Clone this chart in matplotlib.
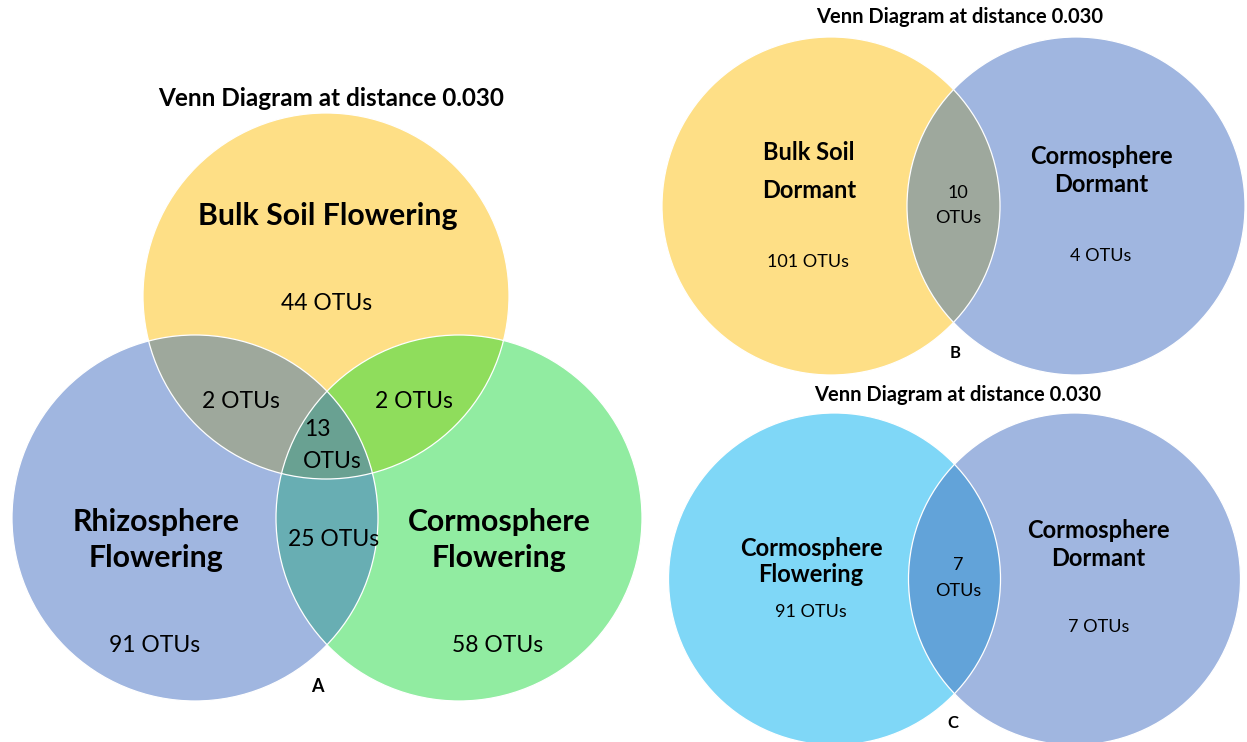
import numpy as np
import matplotlib
matplotlib.use("Agg")
import matplotlib.pyplot as plt
from matplotlib.patches import Circle, Polygon

plt.rcParams['font.family'] = ['Lato', 'DejaVu Sans']

# ---------------- data ----------------
title_text = "Venn Diagram at distance 0.030"

a_sets = ["Bulk Soil Flowering", "Rhizosphere\nFlowering", "Cormosphere\nFlowering"]
a_only = [44, 91, 58]              # bulk, rhizo, cormo only
a_pairs = [2, 2, 25]               # bulk&rhizo, bulk&cormo, rhizo&cormo
a_all = 13

b_sets = ["Bulk Soil\nDormant", "Cormosphere\nDormant"]
b_only = [101, 4]
b_shared = 10

c_sets = ["Cormosphere\nFlowering", "Cormosphere\nDormant"]
c_only = [91, 7]
c_shared = 7

panel_letters = ["A", "B", "C"]

# ---------------- figure ----------------
W, H = 1247, 742
fig = plt.figure(figsize=(W / 100, H / 100), dpi=100)
ax = fig.add_axes([0, 0, 1, 1])
ax.set_xlim(0, W)
ax.set_ylim(H, 0)
ax.axis('off')


def region_polygon(circles, color, n=3000):
    pts = []
    for i, (cx, cy, r) in enumerate(circles):
        t = np.linspace(0, 2 * np.pi, n, endpoint=False)
        x = cx + r * np.cos(t)
        y = cy + r * np.sin(t)
        keep = np.ones_like(x, dtype=bool)
        for j, (ox, oy, orr) in enumerate(circles):
            if j != i:
                keep &= (x - ox) ** 2 + (y - oy) ** 2 <= orr ** 2 * (1 + 1e-9)
        pts.append(np.column_stack([x[keep], y[keep]]))
    pts = np.concatenate(pts)
    c = pts.mean(axis=0)
    ang = np.arctan2(pts[:, 1] - c[1], pts[:, 0] - c[0])
    pts = pts[np.argsort(ang)]
    ax.add_patch(Polygon(pts, closed=True, facecolor=color, edgecolor='none', zorder=2))


def draw_circles(circles, colors):
    for (cx, cy, r), col in zip(circles, colors):
        ax.add_patch(Circle((cx, cy), r, facecolor=col, edgecolor='none', zorder=1))


def outlines(circles):
    for (cx, cy, r) in circles:
        ax.add_patch(Circle((cx, cy), r, facecolor='none', edgecolor='white', lw=0.9, zorder=3))


def lines(label, x, ys, size, bold=True):
    for line, y in zip(label.split("\n"), ys):
        ax.text(x, y, line, ha='center', va='center', fontsize=size,
                fontweight='bold' if bold else 'normal', zorder=5)


def otu(n):
    return f"{n} OTUs"


# ---------------- panel A ----------------
yellow = '#FEDF86'
blue = '#A0B6E0'
green = '#91ECA1'
cA = [(326, 296, 183), (195, 518, 183), (459, 518, 183)]
draw_circles(cA, [yellow, blue, green])
region_polygon([cA[0], cA[1]], '#9EA89C')
region_polygon([cA[0], cA[2]], '#8FDD5C')
region_polygon([cA[1], cA[2]], '#68AEB3')
region_polygon(cA, '#69A192')
outlines(cA)

ax.text(331, 99, title_text, ha='center', va='center', fontsize=17.5, fontweight='bold', zorder=5)
lines(a_sets[0], 328, [216], 21.8)
lines(a_sets[1], 156, [522, 558], 21.8)
lines(a_sets[2], 499, [522, 558], 21.8)
BIG = 16.5
ax.text(327, 303, otu(a_only[0]), ha='center', va='center', fontsize=BIG, zorder=5)
ax.text(155, 645, otu(a_only[1]), ha='center', va='center', fontsize=BIG, zorder=5)
ax.text(498, 645, otu(a_only[2]), ha='center', va='center', fontsize=BIG, zorder=5)
ax.text(241, 401, otu(a_pairs[0]), ha='center', va='center', fontsize=BIG, zorder=5)
ax.text(414, 401, otu(a_pairs[1]), ha='center', va='center', fontsize=BIG, zorder=5)
ax.text(334, 540, otu(a_pairs[2]), ha='center', va='center', fontsize=BIG, zorder=5)
ax.text(304, 430, str(a_all), ha='left', va='center', fontsize=BIG, zorder=5)
ax.text(303, 462, "OTUs", ha='left', va='center', fontsize=BIG, zorder=5)
ax.text(317, 686, panel_letters[0], ha='center', va='center', fontsize=13, fontweight='bold', zorder=5)

# ---------------- panel B ----------------
cB = [(831, 206, 169), (1076, 206, 169)]
draw_circles(cB, [yellow, blue])
region_polygon(cB, '#9EA89D')
outlines(cB)
SMALL = 13
ax.text(960, 17, title_text, ha='center', va='center', fontsize=14.5, fontweight='bold', zorder=5)
lines(b_sets[0], 809, [152, 190], 17)
lines(b_sets[1], 1101, [157, 184], 17)
ax.text(808, 262, otu(b_only[0]), ha='center', va='center', fontsize=SMALL, zorder=5)
ax.text(1101, 256, otu(b_only[1]), ha='center', va='center', fontsize=SMALL, zorder=5)
ax.text(958, 193, str(b_shared), ha='center', va='center', fontsize=SMALL, zorder=5)
ax.text(958, 218, "OTUs", ha='center', va='center', fontsize=SMALL, zorder=5)
ax.text(955, 353, panel_letters[1], ha='center', va='center', fontsize=12, fontweight='bold', zorder=5)

# ---------------- panel C ----------------
cyan = '#7FD7F7'
cC = [(834.5, 579, 166), (1074.5, 579, 166)]
draw_circles(cC, [cyan, blue])
region_polygon(cC, '#62A3D9')
outlines(cC)
ax.text(958, 395, title_text, ha='center', va='center', fontsize=14.5, fontweight='bold', zorder=5)
lines(c_sets[0], 811, [548, 575], 17)
lines(c_sets[1], 1098, [531, 558], 17)
ax.text(811, 612, otu(c_only[0]), ha='center', va='center', fontsize=SMALL, zorder=5)
ax.text(1099, 627, otu(c_only[1]), ha='center', va='center', fontsize=SMALL, zorder=5)
ax.text(958, 565, str(c_shared), ha='center', va='center', fontsize=SMALL, zorder=5)
ax.text(958, 591, "OTUs", ha='center', va='center', fontsize=SMALL, zorder=5)
ax.text(953, 723, panel_letters[2], ha='center', va='center', fontsize=12, fontweight='bold', zorder=5)

fig.savefig("out.png", dpi=100)
